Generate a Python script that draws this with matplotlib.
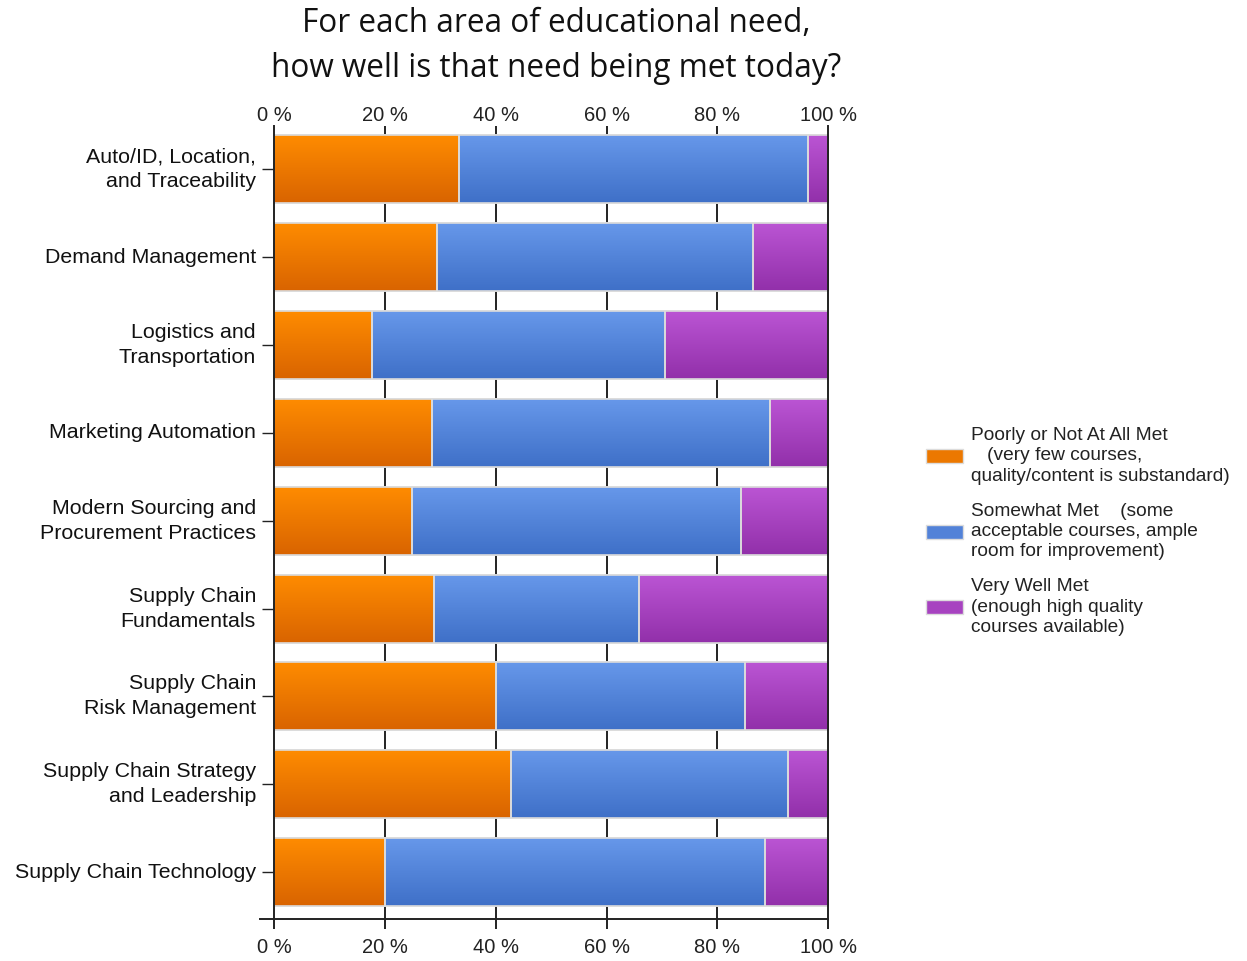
import numpy as np
import matplotlib
matplotlib.use('agg')
import matplotlib.pyplot as plt
from matplotlib.colors import LinearSegmentedColormap

categories = [
    "Auto/ID, Location,\nand Traceability",
    "Demand Management",
    "Logistics and\nTransportation",
    "Marketing Automation",
    "Modern Sourcing and\nProcurement Practices",
    "Supply Chain\nFundamentals",
    "Supply Chain\nRisk Management",
    "Supply Chain Strategy\nand Leadership",
    "Supply Chain Technology",
]
poorly = [33.3, 29.4, 17.6, 28.5, 24.9, 28.8, 40.0, 42.8, 20.0]
somewhat = [63.0, 57.0, 53.0, 60.9, 59.4, 37.0, 44.9, 49.9, 68.5]
very_well = [3.7, 13.6, 29.4, 10.6, 15.7, 34.2, 15.1, 7.3, 11.5]
series_labels = [
    "Poorly or Not At All Met\n   (very few courses,\nquality/content is substandard)",
    "Somewhat Met    (some\nacceptable courses, ample\nroom for improvement)",
    "Very Well Met\n(enough high quality\ncourses available)",
]
tick_values = [0, 20, 40, 60, 80, 100]
tick_labels = [f'{t} %' for t in tick_values]

# light (top) and dark (bottom) colour of each gradient
grads = [('#ff8c00', '#d96400'), ('#6798ea', '#3f70c8'), ('#bb55d4', '#9230aa')]
mid_colors = ['#ec7800', '#5282d8', '#a743c0']

plt.rcParams['font.family'] = ['Liberation Sans', 'DejaVu Sans']

W, H = 1247, 961
fig = plt.figure(figsize=(W / 100, H / 100), dpi=100)
ax = fig.add_axes([274 / W, 1 - 919 / H, 554.3 / W, (919 - 126) / H])

y = np.arange(len(categories))
bar_h = 0.775
gradient = np.linspace(0, 1, 64).reshape(-1, 1)

left = np.zeros(len(categories))
for vals, (c1, c2) in zip([poorly, somewhat, very_well], grads):
    cmap = LinearSegmentedColormap.from_list('g', [c1, c2])
    bars = ax.barh(y, vals, left=left, height=bar_h, color=c2,
                   edgecolor='#dcdcdc', linewidth=1.2, zorder=2)
    for b in bars:
        x0, yb = b.get_x(), b.get_y()
        w, h = b.get_width(), b.get_height()
        im = ax.imshow(gradient, extent=[x0, x0 + w, yb + h, yb], origin='upper',
                       aspect='auto', cmap=cmap, zorder=2.5, interpolation='bilinear')
        im.set_clip_path(b)
        # redraw the edge on top
        ax.add_patch(plt.Rectangle((x0, yb), w, h, fill=False,
                                   edgecolor='#dcdcdc', linewidth=1.2, zorder=3))
    left = left + np.array(vals)

for t in tick_values[1:-1]:
    ax.axvline(t, color='#222222', linewidth=1.4, zorder=1)

ax.set_xlim(0, 100)
ax.set_ylim(len(categories) - 1 + 0.535, -0.495)

ax.set_yticks(y)
ax.set_yticklabels(categories, fontsize=15.4, color='#111111')
for lbl in ax.get_yticklabels():
    lbl.set_linespacing(1.4)
    lbl.set_va('center')
ax.tick_params(axis='y', length=9, width=1, color='#222222', pad=4)

ax.set_xticks(tick_values)
ax.set_xticklabels(tick_labels, fontsize=14.5, color='#222222')
ax.tick_params(axis='x', length=7.5, width=1.4, color='#222222', direction='out', pad=6)

# top labels without tick marks
top = ax.secondary_xaxis('top')
top.set_xticks(tick_values)
top.set_xticklabels(tick_labels, fontsize=14.5, color='#222222')
top.tick_params(axis='x', length=0, pad=0.5)
top.spines['top'].set_visible(False)

ax.spines['top'].set_visible(False)
for s in ['left', 'right', 'bottom']:
    ax.spines[s].set_color('#222222')
    ax.spines[s].set_linewidth(1.4)
ax.spines['left'].set_zorder(4)
ax.spines['right'].set_zorder(4)
ax.plot([-0.025, 0], [0, 0], transform=ax.transAxes, color='#222222',
        linewidth=1.4, clip_on=False)

fig.text(556 / W, 1 - 46 / H, 'For each area of educational need,\nhow well is that need being met today?',
         ha='center', va='center', fontsize=22.7, family=['Open Sans', 'DejaVu Sans'],
         color='#111111', linespacing=1.5)

# legend drawn by hand: swatch + three-line label for each series
for i, (lab, col) in enumerate(zip(series_labels, mid_colors)):
    yc = 1 - (456 + 75.5 * i) / H
    fig.patches.append(plt.Rectangle((926 / W, yc - 7 / H), 37 / W, 14 / H,
                                     facecolor=col, edgecolor='#dcdcdc', linewidth=1,
                                     transform=fig.transFigure, figure=fig))
    fig.text(971 / W, yc, lab, ha='left', va='center', fontsize=13.8,
             color='#222222', linespacing=1.25)

fig.savefig('out.png', dpi=100)
